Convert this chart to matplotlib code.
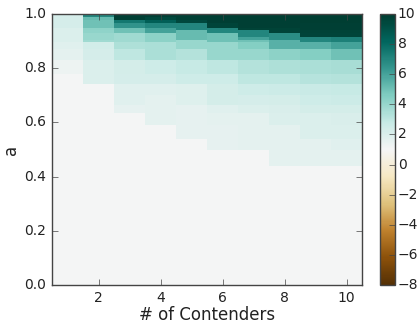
import numpy as np
import matplotlib
matplotlib.use("Agg")
import matplotlib.pyplot as plt

contenders = [1, 2, 3, 4, 5, 6, 7, 8, 9, 10]
a_edges = [0.0, 0.36, 0.39, 0.44, 0.47, 0.50, 0.54, 0.59, 0.635, 0.665, 0.70,
           0.74, 0.78, 0.83, 0.87, 0.895, 0.905, 0.915, 0.93, 0.94, 0.95,
           0.965, 0.978, 0.99, 1.0]

# value in each a-band (bottom to top), one list per number of contenders
c01 = [1.0, 1.0, 1.0, 1.0, 1.0, 1.0, 1.0, 1.0, 1.0, 1.0, 1.0, 1.0,
       1.3, 1.7, 1.8, 2.0, 2.0, 2.0, 2.0, 2.0, 2.2, 2.2, 2.2, 2.2]
c02 = [1.0, 1.0, 1.0, 1.0, 1.0, 1.0, 1.0, 1.0, 1.0, 1.0, 1.0, 2.0,
       2.0, 2.2, 2.4, 3.8, 4.0, 4.0, 4.2, 4.3, 5.0, 5.0, 5.2, 7.0]
c03 = [1.0, 1.0, 1.0, 1.0, 1.0, 1.0, 1.0, 1.0, 1.6, 1.8, 1.8, 2.2,
       2.3, 3.0, 3.4, 3.8, 3.8, 3.8, 5.0, 5.0, 6.5, 7.5, 9.8, 9.8]
c04 = [1.0, 1.0, 1.0, 1.0, 1.0, 1.0, 1.0, 1.7, 1.7, 1.7, 1.8, 2.2,
       2.5, 3.5, 3.5, 4.3, 4.3, 4.3, 6.0, 6.0, 7.0, 8.5, 9.5, 9.8]
c05 = [1.0, 1.0, 1.0, 1.0, 1.0, 1.0, 1.6, 1.6, 1.6, 1.9, 1.9, 2.5,
       2.8, 3.3, 4.0, 4.0, 5.2, 5.2, 5.2, 7.0, 7.0, 9.5, 9.8, 9.8]
c06 = [1.0, 1.0, 1.0, 1.0, 1.0, 1.6, 1.6, 1.7, 1.8, 2.3, 2.3, 2.5,
       3.0, 4.0, 4.0, 5.0, 5.0, 5.0, 7.0, 7.0, 9.6, 9.8, 9.8, 9.9]
c07 = [1.0, 1.0, 1.0, 1.0, 1.0, 1.7, 1.7, 1.7, 2.0, 2.2, 2.5, 3.0,
       3.3, 4.0, 4.5, 5.0, 6.0, 7.0, 7.0, 9.7, 9.8, 9.8, 9.9, 9.9]
c08 = [1.0, 1.0, 1.0, 1.7, 1.7, 1.7, 1.7, 2.0, 2.1, 2.3, 2.6, 3.0,
       3.4, 4.3, 5.5, 5.5, 6.7, 6.7, 9.6, 9.7, 9.8, 9.8, 9.9, 9.9]
c09 = [1.0, 1.0, 1.0, 1.7, 1.7, 1.7, 2.0, 2.0, 2.3, 2.5, 2.7, 3.2,
       3.5, 4.5, 5.5, 7.0, 7.0, 9.6, 9.7, 9.8, 9.8, 9.9, 9.9, 9.9]
c10 = [1.0, 1.0, 1.0, 1.7, 1.7, 1.8, 2.0, 2.1, 2.3, 2.6, 2.8, 3.3,
       3.6, 5.0, 6.0, 7.2, 7.2, 9.6, 9.7, 9.8, 9.8, 9.9, 9.9, 9.9]

Z = np.array([c01, c02, c03, c04, c05, c06, c07, c08, c09, c10]).T

x_edges = np.arange(len(contenders) + 1) + 0.5

plt.style.use("classic")
fig = plt.figure(figsize=(4.19, 3.27), dpi=100)
fig.patch.set_facecolor("white")
ax = fig.add_axes([52/419, 1-285/327, (362-52)/419, (285-14)/327])
mesh = ax.pcolormesh(x_edges, a_edges, Z, cmap="BrBG", vmin=-8, vmax=10)
ax.set_xlim(0.5, 10.5)
ax.set_ylim(0, 1)
ax.set_xticks([2, 4, 6, 8, 10])
ax.set_yticks([0.0, 0.2, 0.4, 0.6, 0.8, 1.0])
ax.set_yticklabels(["0.0", "0.2", "0.4", "0.6", "0.8", "1.0"])
ax.tick_params(labelsize=10, direction="in", top=True, right=True,
               color="#444444", labelcolor="#222222")
ax.set_xlabel("# of Contenders", fontsize=12, labelpad=1, color="#222222")
ax.set_ylabel("a", fontsize=12, labelpad=3, color="#222222")
for s in ax.spines.values():
    s.set_color("#444444")

cax = fig.add_axes([380/419, 1-285/327, 15/419, (285-14)/327])
cb = fig.colorbar(mesh, cax=cax, ticks=list(range(-8, 11, 2)))
cb.ax.tick_params(labelsize=10, direction="in", color="#444444",
                  labelcolor="#222222", pad=2)
cb.outline.set_edgecolor("#444444")

fig.savefig("out.png", dpi=100)
